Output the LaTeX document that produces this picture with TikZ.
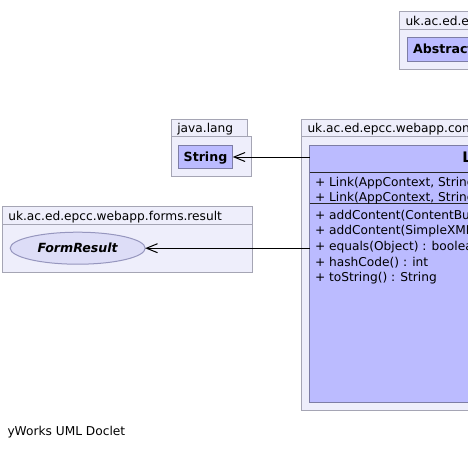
\documentclass[tikz,border=0pt]{standalone}
\usepackage{fontspec}
\setmainfont{DejaVu Sans}
\usetikzlibrary{arrows.meta,shapes.geometric}
\definecolor{pkgfill}{RGB}{238,238,251}
\definecolor{pkgline}{RGB}{165,165,180}
\definecolor{clsfill}{RGB}{187,187,255}
\definecolor{clsline}{RGB}{125,125,165}
\definecolor{ifill}{RGB}{221,221,247}
\definecolor{iline}{RGB}{150,150,190}
\newcommand\dnorm{\fontsize{12.2}{14}\selectfont}
\newcommand\dbold{\fontsize{12.6}{14}\selectfont\bfseries}
\begin{document}
\begin{tikzpicture}[x=1pt,y=-1pt,
  pkg/.style={draw=pkgline,fill=pkgfill,line width=1pt,inner sep=0pt,outer sep=0pt,anchor=north west},
  cls/.style={draw=clsline,fill=clsfill,line width=1pt,inner sep=0pt,outer sep=0pt,anchor=north west},
  txt/.style={inner sep=0pt,outer sep=0pt,anchor=base west,font=\dnorm},
  btxt/.style={inner sep=0pt,outer sep=0pt,anchor=base west,font=\dbold},
  sep/.style={line width=1pt,draw=black!85},
  uarrow/.style={line width=1pt,-{Straight Barb[length=11pt,width=9pt]}}
]
\useasboundingbox (0,0) rectangle (468,448);
\clip (0,0) rectangle (468,448);
% top-right package
\node[pkg,minimum width=200pt,minimum height=40pt] (trbody) at (399,29) {};
\node[pkg,minimum width=150pt,minimum height=17.5pt] (trtab) at (399,11.5) {};
\node[cls,minimum width=200pt,minimum height=24.5pt] (abs) at (407,37) {};
\node[txt] (trtxt) at (405.5,25) {uk.ac.ed.epcc};
\node[btxt] (abstxt) at (413,53.8) {Abstract};
% java.lang package
\node[pkg,minimum width=80.5pt,minimum height=40pt] (jlbody) at (171,136) {};
\node[pkg,minimum width=76.5pt,minimum height=17pt] (jltab) at (171,119) {};
\node[txt] (jltxt) at (177.3,132.7) {java.lang};
\node[cls,anchor=center,minimum width=54.5pt,minimum height=23pt,text height=9pt,text depth=0pt,font=\dbold] (str) at (205.5,157) {String};
% Link package
\node[pkg,minimum width=400pt,minimum height=274pt] (lkbody) at (301.5,136) {};
\node[pkg,minimum width=250pt,minimum height=16.5pt] (lktab) at (301.5,119.5) {};
\node[txt] (lktxt) at (307.5,132.7) {uk.ac.ed.epcc.webapp.content};
\node[cls,minimum width=400pt,minimum height=257pt] (link) at (309.5,145.5) {};
\draw[sep] (309.5,172) -- (709.5,172);
\draw[sep] (309.5,203.5) -- (709.5,203.5);
\node[btxt,font=\fontsize{14.5}{16}\selectfont\bfseries] (linktxt) at (462.3,162.7) {Link};
\node[txt] (c1) at (315,186) {+ Link(AppContext, String};
\node[txt] (c2) at (315,201.5) {+ Link(AppContext, String};
\node[txt] (m1) at (315,219.3) {+ addContent(ContentBuilder)};
\node[txt] (m2) at (315,234.9) {+ addContent(SimpleXMLBuilder)};
\node[txt] (m3) at (315,250.5) {+ equals(Object) : boolean};
\node[txt] (m4) at (315,266.1) {+ hashCode() : int};
\node[txt] (m5) at (315,281.7) {+ toString() : String};
% FormResult package
\node[pkg,minimum width=249.5pt,minimum height=48pt] (frbody) at (2.7,224) {};
\node[pkg,minimum width=249.5pt,minimum height=18pt] (frtab) at (2.7,206) {};
\node[txt] (frtxt) at (8.3,220) {uk.ac.ed.epcc.webapp.forms.result};
\node[ellipse,draw=iline,fill=ifill,line width=1pt,inner sep=0pt,outer sep=0pt,minimum width=135pt,minimum height=32pt,font=\dbold\itshape] (fr) at (77.7,248.2) {FormResult};
% connectors
\draw[uarrow] (link.west |- str.east) -- (str.east);
\draw[uarrow] (link.west |- fr.east) -- (fr.east);
% footer
\node[txt] (foot) at (7.5,435.5) {yWorks UML Doclet};
\end{tikzpicture}
\end{document}
